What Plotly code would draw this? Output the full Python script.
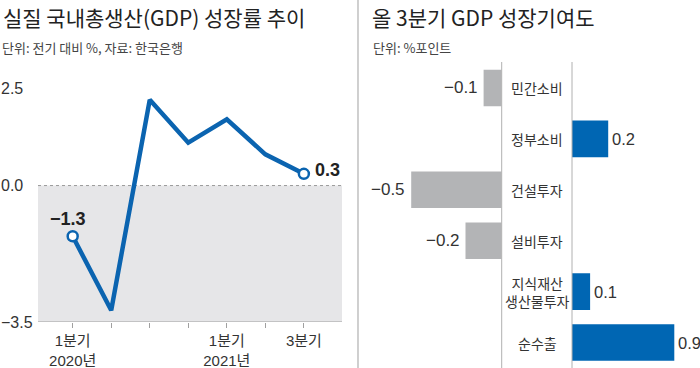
import plotly.graph_objects as go

# ---- data ----
quarters = ["2020Q1", "2020Q2", "2020Q3", "2020Q4", "2021Q1", "2021Q2", "2021Q3"]
growth = [-1.3, -3.2, 2.2, 1.1, 1.7, 0.8, 0.3]
quarter_ticktext = ["1분기<br>2020년", "", "", "", "1분기<br>2021년", "", "3분기"]
y_ticks = [2.5, 0.0, -3.5]
y_ticktext = ["2.5", "0.0", "−3.5"]

components = ["민간소비", "정부소비", "건설투자", "설비투자", "지식재산<br>생산물투자", "순수출"]
contrib = [-0.1, 0.2, -0.5, -0.2, 0.1, 0.9]

FONT = "'Liberation Sans', Arial, 'Noto Sans CJK KR', sans-serif"
KFONT = "'Noto Sans CJK KR', sans-serif"
TXT = "#333333"
BLUE = "#0b64b0"
BAR_BLUE = "#0066b3"
BAR_GRAY = "#b3b4b6"

W, H = 700, 368
def px(x):
    return x / W
def py(y):
    return 1 - y / H

NEG_MIN = -0.794
POS_MAX = 0.565

fig = go.Figure()
xi = list(range(len(quarters)))

# left line chart
fig.add_trace(go.Scatter(x=xi, y=growth, mode="lines",
                         line=dict(color=BLUE, width=4.5),
                         xaxis="x", yaxis="y", hoverinfo="skip", showlegend=False))
mk_idx = [0, len(growth) - 1]
fig.add_trace(go.Scatter(x=[xi[i] for i in mk_idx], y=[growth[i] for i in mk_idx], mode="markers",
                         marker=dict(size=10, color="white", line=dict(color=BLUE, width=2.5)),
                         xaxis="x", yaxis="y", hoverinfo="skip", showlegend=False))

# right bar chart
neg = [v if v < 0 else None for v in contrib]
pos = [v if v > 0 else None for v in contrib]
fig.add_trace(go.Bar(y=components, x=neg, orientation="h", marker=dict(color=BAR_GRAY, line=dict(width=0)),
                     width=0.72, xaxis="x2", yaxis="y2", hoverinfo="skip", showlegend=False))
fig.add_trace(go.Bar(y=components, x=pos, orientation="h", marker=dict(color=BAR_BLUE, line=dict(width=0)),
                     width=0.72, xaxis="x3", yaxis="y2", hoverinfo="skip", showlegend=False))

shapes = [
    dict(type="rect", xref="x domain", yref="y", x0=0, x1=1, y0=-3.5, y1=0,
         fillcolor="#e6e6e8", line=dict(width=0), layer="below"),
    dict(type="line", xref="x domain", yref="y", x0=0, x1=1, y0=0, y1=0,
         line=dict(color="#9a9a9a", width=1, dash="dot"), layer="below"),
    dict(type="line", xref="x domain", yref="y", x0=0, x1=1, y0=-3.5, y1=-3.5,
         line=dict(color="#a0a0a0", width=1.2)),
    dict(type="line", xref="paper", yref="paper", x0=px(358), x1=px(358), y0=0, y1=1,
         line=dict(color="#b0b0b0", width=1.2)),
    dict(type="line", xref="paper", yref="paper", x0=px(501.7), x1=px(501.7), y0=0, y1=py(62),
         line=dict(color="#b0b0b0", width=1)),
    dict(type="line", xref="paper", yref="paper", x0=px(572), x1=px(572), y0=0, y1=py(62),
         line=dict(color="#b0b0b0", width=1)),
]

ann = []
ann.append(dict(xref="paper", yref="paper", x=px(1), y=1, xanchor="left", yanchor="top",
                text="실질 국내총생산(GDP) 성장률 추이", showarrow=False,
                font=dict(family=KFONT, size=21, color="#222")))
ann.append(dict(xref="paper", yref="paper", x=px(0), y=py(47), xanchor="left", yanchor="middle",
                text="단위: 전기 대비 %, 자료: 한국은행", showarrow=False,
                font=dict(family=KFONT, size=13, color="#444")))
ann.append(dict(xref="paper", yref="paper", x=px(370), y=1, xanchor="left", yanchor="top",
                text="올 3분기 GDP 성장기여도", showarrow=False,
                font=dict(family=KFONT, size=21, color="#222")))
ann.append(dict(xref="paper", yref="paper", x=px(371), y=py(47), xanchor="left", yanchor="middle",
                text="단위: %포인트", showarrow=False,
                font=dict(family=KFONT, size=13, color="#444")))
for v, t in zip(y_ticks, y_ticktext):
    ann.append(dict(xref="paper", yref="y", x=px(-1), y=v, xanchor="left", yanchor="middle",
                    text=t, showarrow=False, font=dict(family=FONT, size=16, color=TXT)))
ann.append(dict(xref="x", yref="y", x=xi[0], y=growth[0], xanchor="center", yanchor="bottom",
                xshift=-5, yshift=5, text="−1.3", showarrow=False,
                font=dict(family=FONT, size=18, color="#222", weight="bold")))
ann.append(dict(xref="x", yref="y", x=xi[-1], y=growth[-1], xanchor="left", yanchor="middle",
                xshift=9, yshift=4, text="%.1f" % growth[-1], showarrow=False,
                font=dict(family=FONT, size=18, color="#222", weight="bold")))
for c, v in zip(components, contrib):
    ann.append(dict(xref="paper", yref="y2", x=px(537), y=c, xanchor="center", yanchor="middle",
                    text=c, showarrow=False, align="center",
                    font=dict(family=KFONT, size=14, color=TXT)))
    if v < 0:
        ann.append(dict(xref="x2", yref="y2", x=v, y=c, xanchor="right", yanchor="middle",
                        xshift=-4, text=("−%.1f" % abs(v)), showarrow=False,
                        font=dict(family=FONT, size=17, color=TXT)))
    else:
        ann.append(dict(xref="x3", yref="y2", x=min(v, POS_MAX), y=c, xanchor="left", yanchor="middle",
                        xshift=2, text=("%.1f" % v), showarrow=False,
                        font=dict(family=FONT, size=16.5, color=TXT)))

fig.update_layout(
    width=W, height=H, margin=dict(l=0, r=0, t=0, b=0),
    paper_bgcolor="white", plot_bgcolor="rgba(0,0,0,0)",
    barmode="overlay",
    xaxis=dict(domain=[px(38), px(342)], range=[-0.9, 6.99], anchor="y",
               tickvals=xi, ticktext=quarter_ticktext, ticks="outside", ticklen=5,
               tickcolor="#a0a0a0", tickwidth=1, showgrid=False, zeroline=False, showline=False,
               tickfont=dict(family=FONT, size=15, color=TXT)),
    yaxis=dict(domain=[py(322), py(68.6)], range=[-3.5, 3.0], anchor="x",
               showticklabels=False, showgrid=False, zeroline=False, showline=False, ticks=""),
    xaxis2=dict(domain=[px(358), px(501.7)], range=[NEG_MIN, 0], anchor="y2",
                showticklabels=False, showgrid=False, zeroline=False, showline=False, ticks=""),
    xaxis3=dict(domain=[px(572), px(674.3)], range=[0, POS_MAX], anchor="y2",
                showticklabels=False, showgrid=False, zeroline=False, showline=False, ticks=""),
    yaxis2=dict(domain=[0, py(62.5)], anchor="x2", type="category",
                categoryorder="array", categoryarray=components, range=[5.5, -0.5],
                showticklabels=False, showgrid=False, zeroline=False, showline=False, ticks=""),
    shapes=shapes, annotations=ann,
)

fig.write_html("out.html", config={"displayModeBar": False},
               post_script="document.body.style.margin='0';document.body.style.overflow='hidden';")
